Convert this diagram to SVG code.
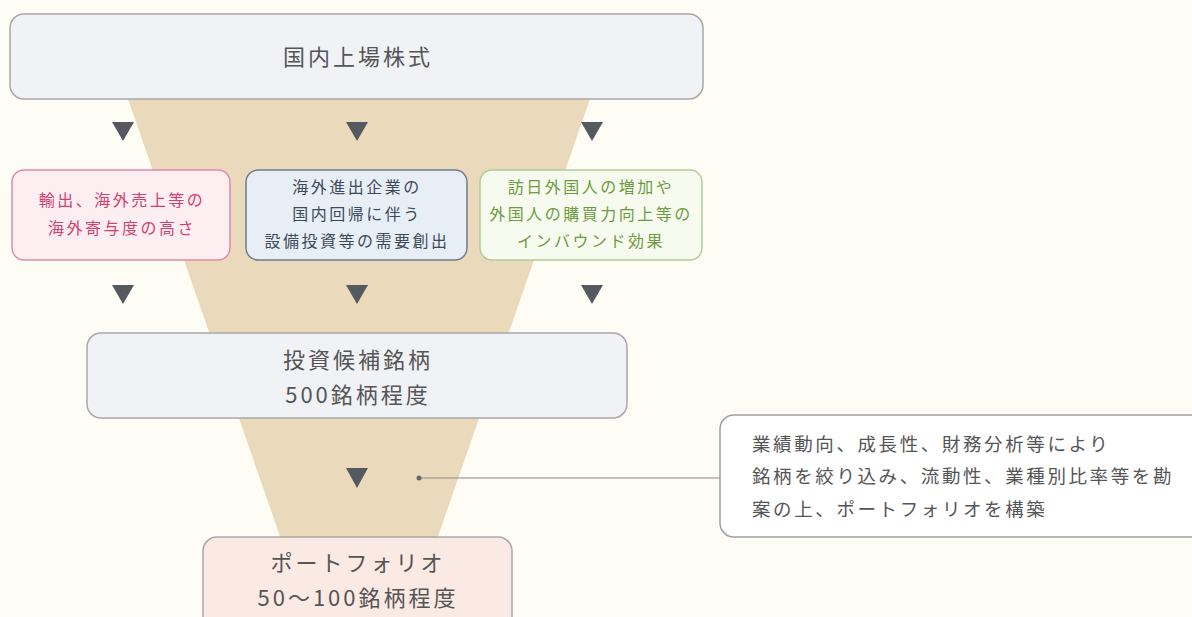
<svg xmlns="http://www.w3.org/2000/svg" width="1192" height="617" viewBox="0 0 1192 617">
<style>
text{font-family:"Noto Sans CJK JP","Noto Sans",sans-serif;text-anchor:middle}
.big{font-size:22px;letter-spacing:3px;fill:#555}
.mid{font-size:16px;letter-spacing:2.5px}
.note{font-size:18.5px;letter-spacing:2.6px;fill:#555;text-anchor:start}
.tri{fill:#555a60}
</style>
<rect width="1192" height="617" fill="#fdfdf6"/>
<polygon points="128,99 590,99 435,545 283,545" fill="#ead9ba"/>
<g id="connectors">
<polygon class="tri" points="112,122 134,122 123,141"/>
<polygon class="tri" points="346,122 368,122 357,141"/>
<polygon class="tri" points="581,122 603,122 592,141"/>
<polygon class="tri" points="112,285 134,285 123,304"/>
<polygon class="tri" points="346,285 368,285 357,304"/>
<polygon class="tri" points="581,285 603,285 592,304"/>
<polygon class="tri" points="346,468 368,468 357,488"/>
<line x1="419" y1="478" x2="720" y2="478" stroke="#888" stroke-width="1.2"/>
<circle cx="419" cy="478" r="2.5" fill="#666"/>
</g>
<g id="top">
<rect x="10" y="14" width="693" height="85" rx="14" fill="#f0f2f5" stroke="#a8a8a8" stroke-width="1.5"/>
<text class="big" x="358" y="65">国内上場株式</text>
</g>
<g id="boxA">
<rect x="12" y="170" width="218" height="90" rx="12" fill="#fdeef2" stroke="#e48aa6" stroke-width="1.5"/>
<text class="mid" x="122" y="206" fill="#d2416e">輸出、海外売上等の</text>
<text class="mid" x="122" y="234" fill="#d2416e">海外寄与度の高さ</text>
</g>
<g id="boxB">
<rect x="246" y="170" width="221" height="90" rx="12" fill="#e8eef6" stroke="#6d7b8a" stroke-width="1.5"/>
<text class="mid" x="357" y="193" fill="#3d4a58">海外進出企業の</text>
<text class="mid" x="357" y="220" fill="#3d4a58">国内回帰に伴う</text>
<text class="mid" x="357" y="247" fill="#3d4a58">設備投資等の需要創出</text>
</g>
<g id="boxC">
<rect x="480" y="170" width="222" height="90" rx="12" fill="#f7faef" stroke="#afcd98" stroke-width="1.5"/>
<text class="mid" x="591" y="193" fill="#6e9c42">訪日外国人の増加や</text>
<text class="mid" x="591" y="220" fill="#6e9c42">外国人の購買力向上等の</text>
<text class="mid" x="591" y="247" fill="#6e9c42">インバウンド効果</text>
</g>
<g id="candidates">
<rect x="87" y="333" width="540" height="85" rx="14" fill="#f0f2f5" stroke="#a8a8a8" stroke-width="1.5"/>
<text class="big" x="358" y="368">投資候補銘柄</text>
<text class="big" x="358" y="403">500銘柄程度</text>
</g>
<g id="portfolio">
<rect x="203" y="537" width="309" height="100" rx="14" fill="#fbe9e4" stroke="#a8a8a8" stroke-width="1.5"/>
<text class="big" x="358" y="571">ポートフォリオ</text>
<text class="big" x="358" y="606">50〜100銘柄程度</text>
</g>
<g id="note">
<rect x="720" y="415" width="490" height="122" rx="14" fill="#ffffff" stroke="#a0a0a0" stroke-width="1.5"/>
<text class="note" x="752" y="451">業績動向、成長性、財務分析等により</text>
<text class="note" x="752" y="483">銘柄を絞り込み、流動性、業種別比率等を勘</text>
<text class="note" x="752" y="516">案の上、ポートフォリオを構築</text>
</g>
</svg>
